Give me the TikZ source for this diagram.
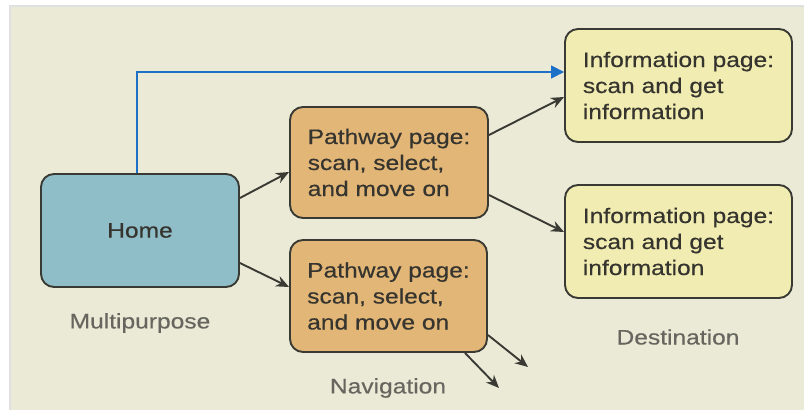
\documentclass[tikz,border=0pt]{standalone}
\usepackage{fontspec}
\setmainfont{Liberation Sans}
\newfontfamily\boxfont[FakeStretch=1.17,FakeBold=0.4]{Liberation Sans}
\usetikzlibrary{arrows.meta,calc}
\definecolor{bgc}{HTML}{EAEAD7}
\definecolor{homec}{HTML}{8FBEC9}
\definecolor{pathc}{HTML}{E2B677}
\definecolor{infoc}{HTML}{F1ECB1}
\definecolor{edgec}{HTML}{3A3A34}
\definecolor{txtc}{HTML}{36342E}
\definecolor{lblc}{HTML}{66665F}
\definecolor{bluec}{HTML}{1C70C6}
\tikzset{
  pagebox/.style={draw=edgec, line width=1.9pt, rounded corners=13pt, inner sep=0pt,
    align=left, text=txtc, font=\boxfont\fontsize{21}{26}\selectfont},
  lbl/.style={text=lblc, font=\boxfont\fontsize{21}{26}\selectfont, inner sep=0pt},
  conn/.style={draw=edgec, line width=1.9pt, -{Stealth[length=13pt,width=11pt]}},
  blueconn/.style={draw=bluec, line width=1.6pt, -{Triangle[length=13pt,width=13pt]}}
}
\begin{document}
\begin{tikzpicture}[x=1pt,y=1pt]
\useasboundingbox (0,0) rectangle (804,410);
\fill[white] (0,0) rectangle (804,410);
\fill[bgc] (10,0) rectangle (804,404);
\draw[black!12, line width=1.5pt] (10,0) -- (10,404) -- (804,404);

\node[pagebox, fill=homec, minimum width=198pt, minimum height=113pt] (home) at (140,179.5) {Home};
\node[pagebox, fill=pathc, minimum width=198pt, minimum height=111pt] (p1) at (389,247.5)
  {Pathway page:\\scan, select,\\and move on};
\node[pagebox, fill=pathc, minimum width=197pt, minimum height=112pt] (p2) at (388.5,114)
  {Pathway page:\\scan, select,\\and move on};
\node[pagebox, fill=infoc, minimum width=227pt, minimum height=113pt] (i1) at (678.5,324.5)
  {Information page:\\scan and get\\information};
\node[pagebox, fill=infoc, minimum width=227pt, minimum height=113pt] (i2) at (678.5,168.5)
  {Information page:\\scan and get\\information};

\node[lbl] (lmulti) at (140,87) {Multipurpose};
\node[lbl] (lnav) at (388,22) {Navigation};
\node[lbl] (ldest) at (678,73) {Destination};

\coordinate (f1) at (528,43);
\coordinate (f2) at (499,22);

\draw[conn] ($(home.east)+(0,32.5)$) -- ($(p1.west)+(0,-9.5)$);
\draw[conn] ($(home.east)+(0,-32.5)$) -- ($(p2.west)+(0,9)$);
\draw[conn] ($(p1.east)+(0,27.5)$) -- ($(i1.west)+(0,-11.5)$);
\draw[conn] ($(p1.east)+(0,-32.5)$) -- ($(i2.west)+(0,9.5)$);
\draw[conn] ($(p2.east)+(0,-39)$) -- (f1);
\draw[conn] ($(p2.south)+(76.5,0)$) -- (f2);
\draw[blueconn] ($(home.north)+(-3,0)$) |- ($(i1.west)+(0,13.5)$);
\end{tikzpicture}
\end{document}
